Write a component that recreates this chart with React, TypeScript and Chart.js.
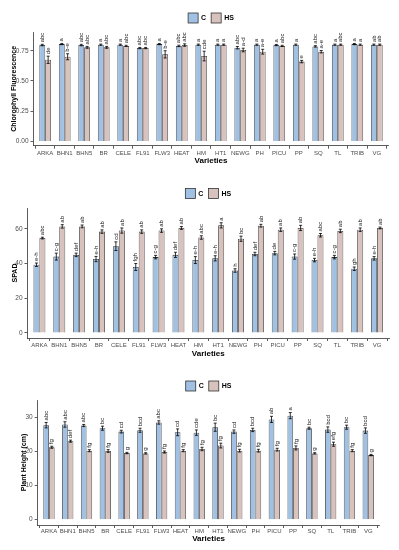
import React, { useEffect, useRef } from "react";
import { Chart, registerables } from "chart.js";
Chart.register(...registerables);

const FONT = "'Liberation Sans', Arial, sans-serif";
const C_COLOR = "#A0C1E4";
const HS_COLOR = "#D8C2BE";

const varieties = ["ARKA", "BHN1", "BHN5", "BR", "CELE", "FL91", "FLW3", "HEAT", "HM", "HT1", "NEWG", "PH", "PICU", "PP", "SQ", "TL", "TRIB", "VG"];

// Chlorophyll fluorescence
const cfC = [0.797, 0.805, 0.797, 0.8, 0.8, 0.772, 0.805, 0.79, 0.8, 0.8, 0.775, 0.8, 0.797, 0.8, 0.786, 0.8, 0.805, 0.8];
const cfHS = [0.675, 0.7, 0.778, 0.778, 0.79, 0.772, 0.72, 0.797, 0.706, 0.8, 0.756, 0.742, 0.79, 0.66, 0.742, 0.8, 0.8, 0.8];
const cfErrC = [0.006, 0.005, 0.006, 0.005, 0.005, 0.005, 0.005, 0.006, 0.005, 0.005, 0.01, 0.005, 0.005, 0.005, 0.006, 0.005, 0.005, 0.005];
const cfErrHS = [0.03, 0.025, 0.008, 0.008, 0.005, 0.005, 0.03, 0.01, 0.04, 0.005, 0.015, 0.02, 0.005, 0.01, 0.01, 0.005, 0.005, 0.005];
const cfLetC = ["abc", "a", "abc", "a", "a", "abc", "a", "abc", "a", "a", "abc", "a", "a", "a", "abc", "a", "a", "ab"];
const cfLetHS = ["de", "b-e", "abc", "abc", "abc", "abc", "b-e", "abc", "cde", "a", "a-d", "a-e", "abc", "e", "a-e", "abc", "a", "ab"];
const cfTicks = [0, 0.25, 0.5, 0.75];

// SPAD
const spC = [39.3, 44, 45, 42.6, 50, 38, 43.7, 45, 42, 43, 36, 45.5, 46, 44, 42, 43.7, 37, 43];
const spHS = [54.7, 61.4, 61.4, 58.4, 59, 58.4, 59, 60.5, 55, 62, 54.3, 61.8, 59.5, 60.5, 56.3, 58.8, 59.5, 60.5];
const spErrC = [1, 2, 1, 1.5, 2.5, 2, 1, 1.5, 2, 1.5, 1, 1, 1, 1.5, 1, 1, 1, 1];
const spErrHS = [0.5, 1, 0.8, 1, 1.5, 1, 1, 0.8, 1, 1.5, 1.5, 0.8, 1, 1.5, 1, 1, 1, 0.5];
const spLetC = ["e-h", "c-g", "def", "e-h", "cd", "fgh", "c-g", "def", "e-h", "e-h", "h", "def", "de", "c-g", "e-h", "c-g", "gh", "e-h"];
const spLetHS = ["abc", "ab", "ab", "ab", "ab", "ab", "ab", "ab", "abc", "a", "bc", "ab", "ab", "ab", "abc", "ab", "ab", "ab"];
const spTicks = [0, 20, 40, 60];

// Plant height
const phC = [27.8, 28, 27.7, 26.9, 25.9, 26.3, 28.6, 25.7, 25.6, 27.2, 25.9, 26.4, 29.5, 30.6, 26.9, 26.5, 27.2, 26.2];
const phHS = [21.3, 23.1, 20.3, 20.2, 19.6, 19.5, 19.9, 20.3, 20.8, 21.8, 20.3, 20.3, 20.6, 21.1, 19.5, 22.2, 20.3, 19];
const phErrC = [0.8, 0.8, 0.3, 0.6, 0.4, 0.6, 0.5, 1.0, 0.8, 1.2, 0.5, 0.5, 0.9, 0.9, 0.3, 0.8, 0.6, 0.8];
const phErrHS = [0.3, 0.3, 0.3, 0.4, 0.2, 0.2, 0.3, 0.3, 0.5, 0.7, 0.4, 0.4, 0.4, 0.6, 0.2, 0.6, 0.3, 0.2];
const phLetC = ["abc", "abc", "abc", "bc", "cd", "bcd", "abc", "cd", "cde", "bc", "cd", "bcd", "ab", "a", "bc", "bcd", "bc", "bcd"];
const phLetHS = ["fg", "def", "fg", "fg", "g", "g", "fg", "fg", "fg", "fg", "fg", "fg", "fg", "fg", "g", "efg", "fg", "g"];
const phTicks = [0, 10, 20, 30];

const annotPlugin = {
  id: "annot",
  afterDatasetsDraw(chart: any, _args: any, opts: any) {
    const ctx = chart.ctx;
    const ys = chart.scales.y;
    const gap = opts.gap ?? 2;
    chart.data.datasets.forEach((ds: any, di: number) => {
      const meta = chart.getDatasetMeta(di);
      meta.data.forEach((bar: any, i: number) => {
        const v = ds.data[i].y;
        const e = ds.errors[i];
        const x = bar.x;
        const yt = ys.getPixelForValue(v + e);
        const yb = ys.getPixelForValue(v - e);
        ctx.save();
        ctx.strokeStyle = "#000";
        ctx.lineWidth = 0.8;
        ctx.beginPath();
        ctx.moveTo(x, yt);
        ctx.lineTo(x, yb);
        ctx.moveTo(x - 1.5, yt);
        ctx.lineTo(x + 1.5, yt);
        ctx.moveTo(x - 1.5, yb);
        ctx.lineTo(x + 1.5, yb);
        ctx.stroke();
        ctx.translate(x, yt - gap);
        ctx.rotate(-Math.PI / 2);
        ctx.font = `6px ${FONT}`;
        ctx.fillStyle = "#222";
        ctx.textAlign = "left";
        ctx.textBaseline = "middle";
        ctx.fillText(ds.letters[i], 0, 0);
        ctx.restore();
      });
    });
  },
};

const legendPlugin = {
  id: "customLegend",
  afterDraw(chart: any, _args: any, opts: any) {
    const ctx = chart.ctx;
    const { left, right } = chart.chartArea;
    const cy = opts.y;
    const box = 10;
    ctx.save();
    ctx.font = `bold 7px ${FONT}`;
    const items = chart.data.datasets.map((d: any) => ({ label: d.label, color: d.backgroundColor, w: ctx.measureText(d.label).width }));
    const total = items.reduce((s: number, it: any) => s + box + 3 + it.w, 0) + 5 * (items.length - 1);
    let x = (left + right) / 2 - total / 2;
    items.forEach((it: any) => {
      ctx.fillStyle = it.color;
      ctx.fillRect(x, cy - box / 2, box, box);
      ctx.strokeStyle = "#333";
      ctx.lineWidth = 0.8;
      ctx.strokeRect(x, cy - box / 2, box, box);
      ctx.fillStyle = "#000";
      ctx.textAlign = "left";
      ctx.textBaseline = "middle";
      ctx.fillText(it.label, x + box + 3, cy + 0.5);
      x += box + 3 + it.w + 5;
    });
    ctx.restore();
  },
};

type PanelProps = {
  top: number;
  height: number;
  cVals: number[];
  hsVals: number[];
  cErr: number[];
  hsErr: number[];
  cLet: string[];
  hsLet: string[];
  ticks: number[];
  decimals: number;
  yMin: number;
  yMax: number;
  yTitle: string;
  yWidth: number;
  yTitlePad: number;
  xHeight: number;
  xTitlePad: number;
  xTickPad: number;
  padTop: number;
  padRight: number;
  legendY: number;
};

function Panel(p: PanelProps) {
  const ref = useRef<HTMLCanvasElement | null>(null);
  useEffect(() => {
    if (!ref.current) return;
    const chart = new Chart(ref.current, {
      type: "bar",
      data: {
        datasets: [
          {
            label: "C",
            data: p.cVals.map((v, i) => ({ x: i, y: v })),
            backgroundColor: C_COLOR,
            borderColor: "#333",
            borderWidth: 0.8,
            errors: p.cErr,
            letters: p.cLet,
          } as any,
          {
            label: "HS",
            data: p.hsVals.map((v, i) => ({ x: i, y: v })),
            backgroundColor: HS_COLOR,
            borderColor: "#333",
            borderWidth: 0.8,
            errors: p.hsErr,
            letters: p.hsLet,
          } as any,
        ],
      },
      options: {
        animation: false,
        responsive: false,
        categoryPercentage: 0.6,
        barPercentage: 1.0,
        layout: { padding: { top: p.padTop, right: p.padRight, left: 0, bottom: 0 } },
        plugins: {
          legend: { display: false },
          tooltip: { enabled: false },
          customLegend: { y: p.legendY },
          annot: { gap: 2 },
        } as any,
        scales: {
          x: {
            type: "linear",
            min: -0.6,
            max: 17.6,
            offset: false,
            bounds: "data",
            afterBuildTicks: (s: any) => {
              s.ticks = varieties.map((_, i) => ({ value: i }));
            },
            afterFit: (s: any) => {
              s.height = p.xHeight;
            },
            grid: { drawOnChartArea: false, drawTicks: true, tickLength: 3, color: "#333", lineWidth: 0.8 },
            border: { display: true, color: "#333", width: 0.8 },
            ticks: {
              autoSkip: false,
              maxRotation: 0,
              minRotation: 0,
              padding: p.xTickPad,
              color: "#4d4d4d",
              font: { size: 6, family: FONT },
              callback: (v: any) => varieties[v] ?? "",
            },
            title: {
              display: true,
              text: "Varieties",
              color: "#000",
              font: { size: 8, weight: "bold", family: FONT },
              padding: { top: 0, bottom: p.xTitlePad },
            },
          },
          y: {
            type: "linear",
            min: p.yMin,
            max: p.yMax,
            bounds: "data",
            afterBuildTicks: (s: any) => {
              s.ticks = p.ticks.map((v) => ({ value: v }));
            },
            afterFit: (s: any) => {
              s.width = p.yWidth;
            },
            grid: { drawOnChartArea: false, drawTicks: true, tickLength: 3, color: "#333", lineWidth: 0.8 },
            border: { display: true, color: "#333", width: 0.8 },
            ticks: {
              padding: 2,
              color: "#4d4d4d",
              font: { size: 6.5, family: FONT },
              callback: (v: any) => Number(v).toFixed(p.decimals),
            },
            title: {
              display: true,
              text: p.yTitle,
              color: "#000",
              font: { size: 7, weight: "bold", family: FONT },
              padding: { top: p.yTitlePad, bottom: 0 },
            },
          },
        },
      } as any,
      plugins: [annotPlugin, legendPlugin],
    });
    return () => chart.destroy();
  }, []);
  return (
    <canvas
      ref={ref}
      width={399}
      height={p.height}
      style={{ position: "absolute", left: 0, top: p.top, width: 399, height: p.height }}
    />
  );
}

export default function App() {
  return (
    <div style={{ position: "absolute", left: 0, top: 0, width: 399, height: 550, background: "#fff" }}>
      <Panel
        top={0}
        height={168}
        cVals={cfC}
        hsVals={cfHS}
        cErr={cfErrC}
        hsErr={cfErrHS}
        cLet={cfLetC}
        hsLet={cfLetHS}
        ticks={cfTicks}
        decimals={2}
        yMin={-0.036}
        yMax={0.905}
        yTitle="Chlorophyll Fluorescence"
        yWidth={33.5}
        yTitlePad={9.8}
        xHeight={22.3}
        xTitlePad={2.5}
        xTickPad={1}
        padTop={32}
        padRight={10.5}
        legendY={18}
      />
      <Panel
        top={170}
        height={190}
        cVals={spC}
        hsVals={spHS}
        cErr={spErrC}
        hsErr={spErrHS}
        cLet={spLetC}
        hsLet={spLetHS}
        ticks={spTicks}
        decimals={0}
        yMin={-2.9}
        yMax={72}
        yTitle="SPAD"
        yWidth={27.5}
        yTitlePad={10.8}
        xHeight={22}
        xTitlePad={1.2}
        xTickPad={1}
        padTop={38}
        padRight={10}
        legendY={23.5}
      />
      <Panel
        top={360}
        height={190}
        cVals={phC}
        hsVals={phHS}
        cErr={phErrC}
        hsErr={phErrHS}
        cLet={phLetC}
        hsLet={phLetHS}
        ticks={phTicks}
        decimals={0}
        yMin={-1.56}
        yMax={35.2}
        yTitle="Plant Height (cm)"
        yWidth={37.7}
        yTitlePad={19.8}
        xHeight={25}
        xTitlePad={6.2}
        xTickPad={0}
        padTop={40}
        padRight={19.5}
        legendY={26}
      />
    </div>
  );
}
